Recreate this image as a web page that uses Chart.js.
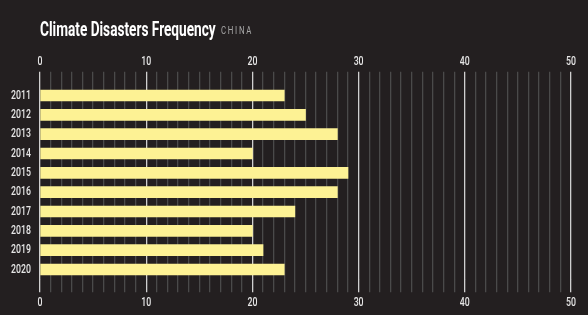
<!DOCTYPE html>
<html>
<head>
<meta charset="utf-8">
<script src="https://cdn.jsdelivr.net/npm/chart.js@4"></script>
<style>
    html, body { margin: 0; padding: 0; background: #231f20; }
    #wrap { position: relative; width: 588px; height: 315px; }
    #title { position: absolute; left: 40px; top: 17px; white-space: nowrap; font-family: Roboto, sans-serif; }
    #title span { display: inline-block; transform-origin: 0 0; }
    #title .main { color: #ffffff; font-weight: bold; font-size: 20px; }
    #title .sub { position: absolute; top: 7px; color: #a9a9a9; font-size: 11px; letter-spacing: 2.4px; }
</style>
</head>
<body>
<div id="wrap">
    <canvas id="chart" width="588" height="315"></canvas>
    <div id="title"><span class="main">Climate Disasters Frequency</span><span class="sub">CHINA</span></div>
</div>
<script>
// Chart data
const years = ['2011', '2012', '2013', '2014', '2015', '2016', '2017', '2018', '2019', '2020'];
const disasters = [23, 25, 28, 20, 29, 28, 24, 20, 21, 23];
const xTicks = [0, 10, 20, 30, 40, 50];

const tickFont = { family: 'Roboto, sans-serif', size: 12.5, weight: '500' };
const gridColor = (c) => (c.tick && xTicks.includes(c.tick.value)) ? '#cfcfcf' : '#4a4a4a';
const labelOnlyMajor = (v) => xTicks.includes(v) ? String(v) : '';

// squeeze title into a condensed look
function fitTitle() {
    const main = document.querySelector('#title .main');
    const sub = document.querySelector('#title .sub');
    const sx = 176 / main.offsetWidth;
    main.style.transform = `scaleX(${sx})`;
    sub.style.left = (176 + 5) + 'px';
    sub.style.transform = `scaleX(${32 / sub.offsetWidth})`;
}

// condensed tick labels: draw text squeezed horizontally around its anchor
const condensedText = {
    id: 'condensedText',
    beforeDraw(chart) {
        const ctx = chart.ctx;
        if (ctx._condensed) return;
        const orig = ctx.fillText.bind(ctx);
        ctx.fillText = function (text, x, y) {
            ctx.save();
            ctx.translate(x, y);
            ctx.scale(0.7, 1);
            orig(text, 0, 0);
            ctx.restore();
        };
        ctx._condensed = true;
    }
};

document.addEventListener('DOMContentLoaded', () => {
    fitTitle();
    const ctx = document.getElementById('chart').getContext('2d');
    new Chart(ctx, {
        type: 'bar',
        data: {
            labels: years,
            datasets: [{
                data: disasters,
                backgroundColor: '#fdf294',
                borderWidth: 0,
                barThickness: 11
            }]
        },
        plugins: [condensedText],
        options: {
            indexAxis: 'y',
            responsive: false,
            animation: false,
            layout: { padding: { top: 50, left: 0, right: 17, bottom: 0 } },
            plugins: {
                legend: { display: false },
                tooltip: { enabled: false }
            },
            scales: {
                x: {
                    position: 'top',
                    min: 0, max: 50,
                    grid: { color: gridColor, lineWidth: 1.3, drawTicks: true, tickLength: 14 },
                    border: { display: false },
                    ticks: { stepSize: 1, autoSkip: false, maxRotation: 0, color: '#e6e6e6', font: tickFont, padding: 2, callback: labelOnlyMajor },
                    afterFit: (s) => { s.height = 35.8; }
                },
                x2: {
                    type: 'linear',
                    position: 'bottom',
                    min: 0, max: 50,
                    grid: { color: gridColor, lineWidth: 1.3, drawOnChartArea: false, drawTicks: true, tickLength: 13 },
                    border: { display: false },
                    ticks: { stepSize: 1, autoSkip: false, maxRotation: 0, color: '#e6e6e6', font: tickFont, padding: 3, callback: labelOnlyMajor },
                    afterFit: (s) => { s.height = 35.8; }
                },
                y: {
                    grid: { display: false, drawTicks: false },
                    border: { display: false },
                    ticks: { color: '#e6e6e6', font: tickFont, padding: 9 },
                    afterFit: (s) => { s.width = 40; }
                }
            }
        }
    });
});
</script>
</body>
</html>
